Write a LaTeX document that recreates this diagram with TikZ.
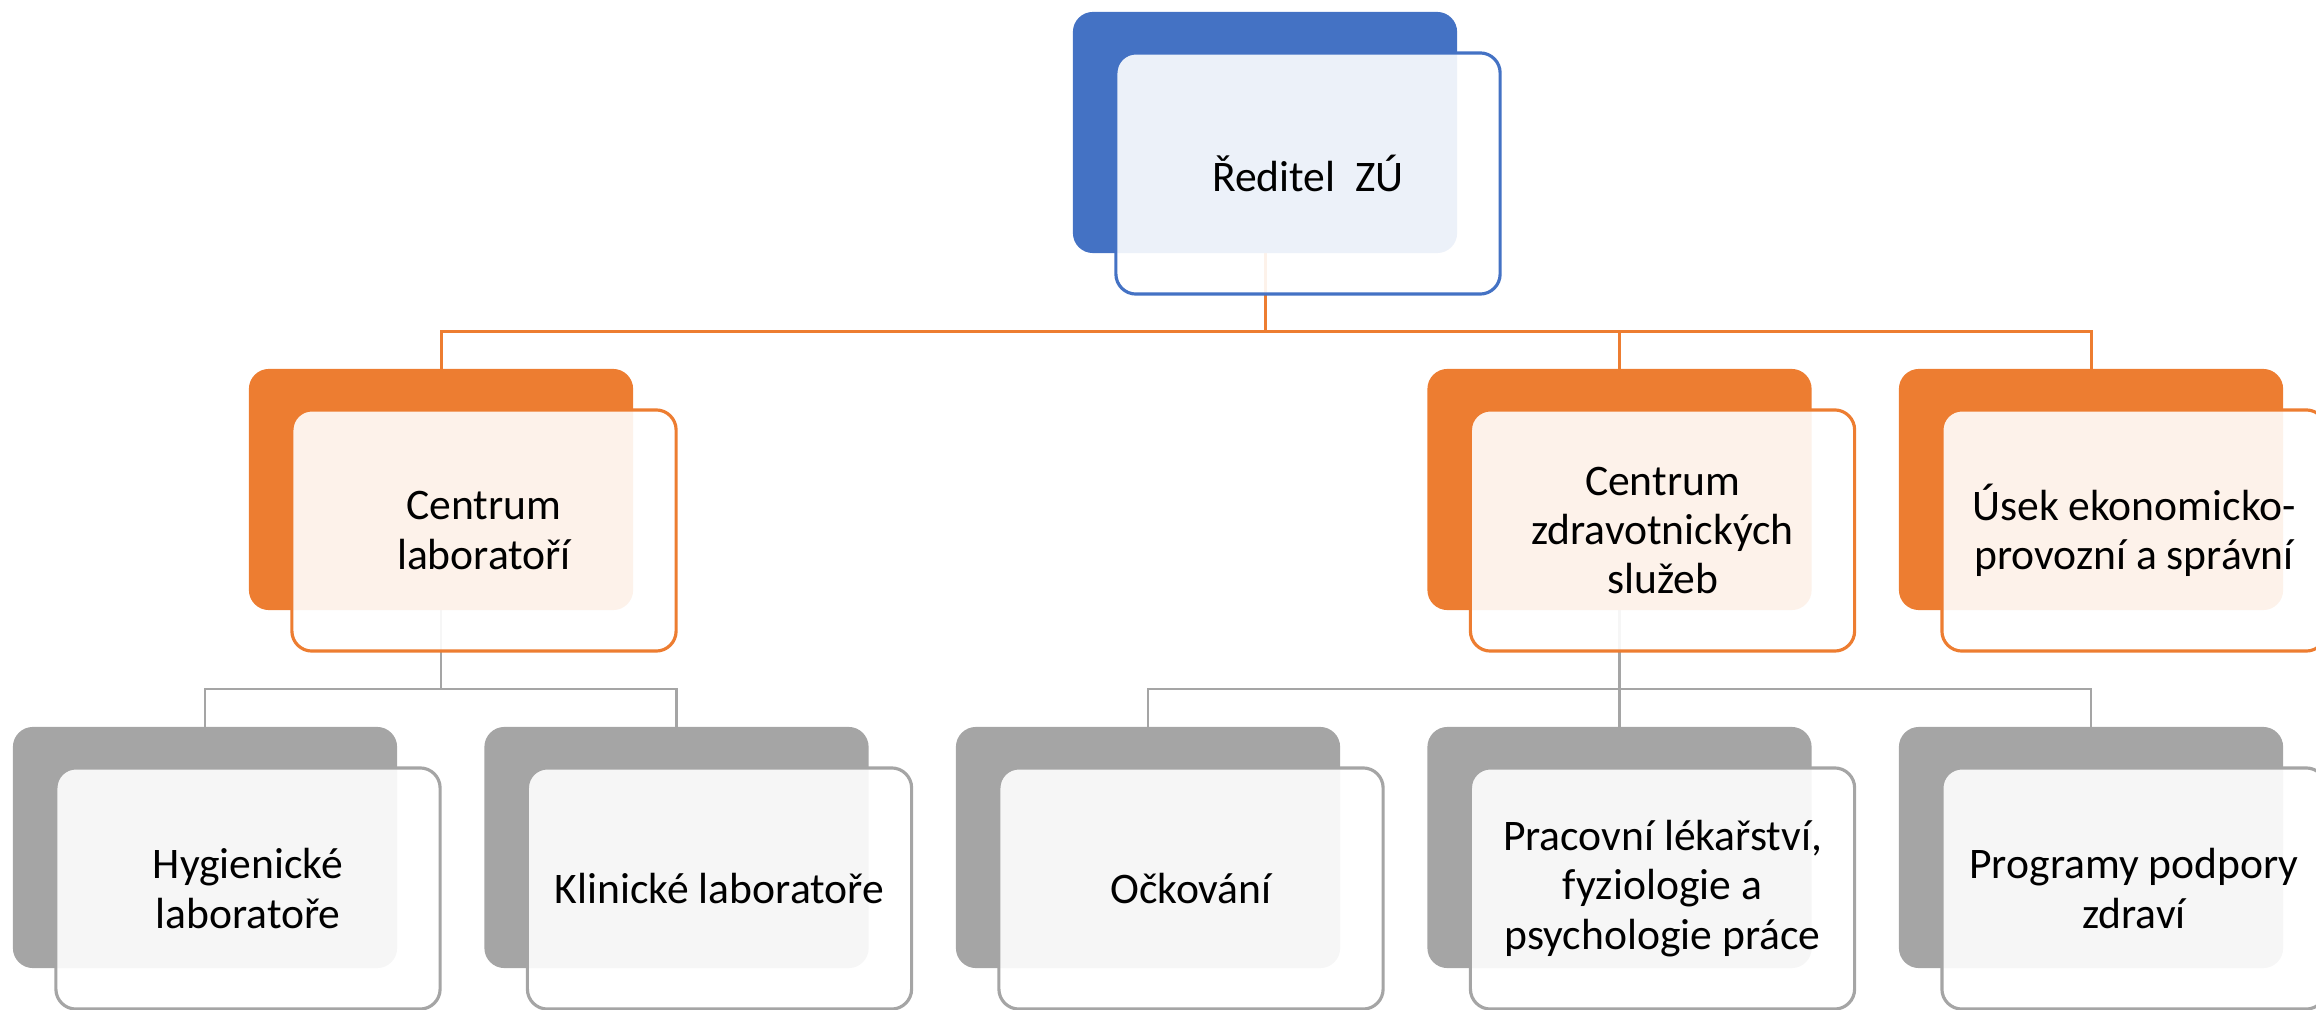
\documentclass[tikz,border=0pt]{standalone}
\usepackage{fontspec}
\setmainfont{Carlito}
\usepackage{tikz}
\usetikzlibrary{positioning, backgrounds}
\definecolor{blueColor}{RGB}{68,114,196}
\definecolor{orangeColor}{RGB}{237,125,49}
\definecolor{grayColor}{RGB}{165,165,165}
\tikzstyle{chart} = [x = 0.01cm, y = -0.01cm]
\tikzstyle{backBox} = [rectangle, rounded corners = .2cm, minimum width = 3.84cm, minimum height = 2.41cm, inner sep = 0pt, outer sep = 0pt]
\tikzstyle{frontBox} = [rectangle, rounded corners = .2cm, minimum width = 3.84cm, minimum height = 2.41cm, inner sep = 0pt, outer sep = 0pt, fill = white, fill opacity = 0.9, text opacity = 1, line width = .9pt, align = center, font = \fontsize{12.4}{14}\selectfont]
\tikzstyle{orangeLine} = [color = orangeColor, line width = .85pt]
\tikzstyle{grayLine} = [color = grayColor, line width = .75pt]
\newcommand{\unitBox}[5]{
  \node [backBox, fill = #4] (#1Back) at (#2, #3) {};
  \node [frontBox, draw = #4] (#1) at (#2 + 43, #3 + 41) {#5};
}

\begin{document}
\begin{tikzpicture}[chart]
        \useasboundingbox (0,0) rectangle (2316,1010);

        % top level
        \unitBox{director}{1265}{132.5}{blueColor}{Ředitel~~ZÚ}

        % second level
        \unitBox{labs}{441}{489.5}{orangeColor}{Centrum\\laboratoří}
        \unitBox{health}{1619.5}{489.5}{orangeColor}{Centrum\\zdravotnických\\služeb}
        \unitBox{economy}{2091}{489.5}{orangeColor}{Úsek ekonomicko-\\provozní a správní}

        % third level
        \unitBox{hygiene}{205}{847.5}{grayColor}{Hygienické\\laboratoře}
        \unitBox{clinical}{676.5}{847.5}{grayColor}{Klinické laboratoře}
        \unitBox{vaccination}{1148}{847.5}{grayColor}{Očkování}
        \unitBox{occupational}{1619.5}{847.5}{grayColor}{Pracovní lékařství,\\fyziologie a\\psychologie práce}
        \unitBox{promotion}{2091}{847.5}{grayColor}{Programy podpory\\zdraví}

        \begin{scope}[on background layer]
          \foreach \child in {labs, health, economy} {
            \draw [orangeLine] (directorBack.south) -- ++(0,78) -| (\child Back.north);
          }
          \foreach \child in {hygiene, clinical} {
            \draw [grayLine] (labsBack.south) -- ++(0,79) -| (\child Back.north);
          }
          \foreach \child in {vaccination, occupational, promotion} {
            \draw [grayLine] (healthBack.south) -- ++(0,79) -| (\child Back.north);
          }
        \end{scope}
      \end{tikzpicture}
\end{document}
